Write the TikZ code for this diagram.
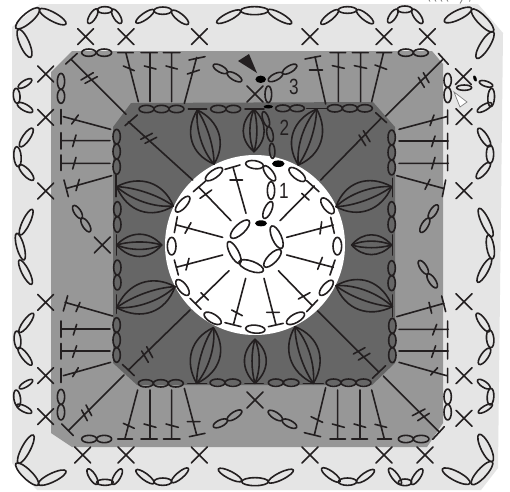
\documentclass[tikz,border=0pt]{standalone}
\usepackage{fontspec}
\setmainfont{Liberation Sans}
\usetikzlibrary{calc}
\definecolor{ink}{HTML}{231F20}
\definecolor{lightz}{HTML}{E5E5E5}
\definecolor{midz}{HTML}{979797}
\definecolor{darkz}{HTML}{666666}
\tikzset{
  stitch/.style={draw=ink,line width=1.6pt,line cap=round,line join=round},
  blob/.style={fill=black,draw=none},
  px/.style={x=1pt,y=-1pt},
  q/.style 2 args={shift={(#1pt,-#2pt)},x=.33333pt,y=-.33333pt},
  lab/.style={text=ink,inner sep=0pt,font=\fontsize{22}{22}\selectfont,xscale=.78}
}
% chain stitch: ellipse between two end points, half width #5
\newcommand{\ee}[5]{%
  \pgfmathsetmacro\eecx{((#1)+(#3))/2}%
  \pgfmathsetmacro\eecy{((#2)+(#4))/2}%
  \pgfmathsetmacro\eeang{atan2((#2)-(#4),(#3)-(#1))}%
  \pgfmathsetmacro\eerx{veclen((#3)-(#1),(#4)-(#2))/2}%
  \draw[stitch,rotate around={\eeang:(\eecx,\eecy)}] (\eecx,\eecy) ellipse [x radius=\eerx,y radius=#5];}
% single crochet
\newcommand{\xx}[2]{\draw[stitch] ({#1-24},{#2-24}) -- ({#1+24},{#2+24}) ({#1-24},{#2+24}) -- ({#1+24},{#2-24});}
% cluster of four curves between two end points
\newcommand{\petal}[4]{%
  \pgfmathsetmacro\pdx{(#3)-(#1)}\pgfmathsetmacro\pdy{(#4)-(#2)}%
  \foreach \k in {.34,.13,-.09,-.32}{%
    \draw[stitch] (#1,#2) .. controls ({#1+.3*\pdx-\k*\pdy},{#2+.3*\pdy+\k*\pdx}) and ({#1+.72*\pdx-\k*\pdy},{#2+.72*\pdy+\k*\pdx}) .. (#3,#4);}}
\begin{document}
\begin{tikzpicture}
\useasboundingbox (0,0) rectangle (510pt,-491pt);
\fill[white] (0,0) rectangle (510pt,-491pt);
\begin{scope}[px]
\fill[lightz] (12,27) -- (40,4) -- (478,4) -- (503,33) -- (498,468) -- (481,490) -- (37,490) -- (12,463) -- cycle;
\fill[midz] (51,72) -- (72,51) -- (432,51) -- (443,64) -- (443,423) -- (427,447) -- (72,447) -- (51,433) -- cycle;
\fill[darkz] (113,127) -- (131,103) -- (373,102) -- (395,127) -- (395,363) -- (372,385) -- (137,385) -- (113,363) -- cycle;
\fill[white] (255,245) circle [radius=90];
\fill[ink] (238,61) -- (249,54) -- (257,73) -- cycle;
\draw[fill=white,draw=gray,line width=.7pt] (454,92) -- (467,102) -- (460,107) -- cycle;
\fill[blob] (260.7,79.3) ellipse [x radius=5.3,y radius=3.7];
\fill[blob] (268.3,106.7) ellipse [x radius=4.7,y radius=1.8];
\fill[blob] (278.3,163.7) ellipse [x radius=6.3,y radius=3.3];
\fill[blob] (261,223.3) ellipse [x radius=6,y radius=3];
\fill[blob,rotate around={-70:(475,78.5)}] (475,78.5) ellipse [x radius=3.2,y radius=1.6];
\node[lab] (n1) at (284,190.5) {1};
\node[lab] (n2) at (284.5,127.5) {2};
\node[lab] (n3) at (294,86.5) {3};
\end{scope}
% ---------- top left
\begin{scope}[q={0}{0}]
\ee{118}{28}{198}{72}{13}\ee{48}{85}{118}{25}{15}\ee{55}{88}{92}{172}{14}
\ee{265}{70}{292}{27}{10}\ee{292}{30}{337}{30}{10}\ee{337}{28}{363}{70}{10}
\ee{408}{68}{462}{30}{10}\ee{462}{32}{515}{32}{11}\ee{515}{32}{565}{72}{11}
\ee{650}{68}{722}{32}{11}\ee{722}{32}{805}{32}{12}
\ee{95}{238}{55}{263}{9}\ee{48}{265}{52}{310}{10}\ee{52}{310}{98}{335}{10}
\ee{98}{385}{60}{440}{11}\ee{50}{440}{55}{500}{11}\ee{58}{495}{100}{540}{11}
\ee{97}{628}{60}{705}{11}\ee{50}{700}{72}{780}{11}\ee{58}{780}{95}{853}{11}
\xx{257}{110}\xx{378}{110}\xx{598}{110}\xx{137}{222}\xx{137}{352}\xx{137}{573}\xx{307}{735}
\ee{245}{158}{288}{158}{11}\ee{290}{158}{335}{158}{11}
\draw[stitch] (415,305)--(378,160) (353,158)--(400,158) (370,198)--(403,212);
\draw[stitch] (450,305)--(450,158) (423,158)--(472,158) (433,198)--(468,207);
\draw[stitch] (515,305)--(515,158) (490,158)--(540,158) (498,198)--(532,207);
\draw[stitch] (553,310)--(590,172) (567,180)--(615,170) (562,222)--(598,210);
\ee{640}{195}{682}{218}{10}\ee{682}{218}{725}{243}{10}
\draw[stitch] (378,343)--(215,180) (197,192)--(232,160) (243,240)--(280,218) (255,250)--(292,230);
\ee{183}{220}{183}{268}{11}\ee{183}{268}{183}{310}{11}
\draw[stitch] (332,388)--(190,350) (183,328)--(183,372) (215,372)--(235,345);
\draw[stitch] (330,422)--(185,422) (183,398)--(183,447) (218,440)--(228,405);
\draw[stitch] (330,490)--(185,490) (183,465)--(183,512) (218,507)--(228,472);
\draw[stitch] (335,527)--(200,565) (192,540)--(205,590) (228,572)--(238,538);
\ee{220}{617}{245}{655}{10}\ee{245}{655}{270}{695}{10}
\ee{417}{327}{462}{327}{11}\ee{462}{327}{507}{327}{11}\ee{507}{327}{552}{327}{11}
\draw[stitch] (565,327)--(620,327);
\petal{592}{330}{642}{492}
\ee{632}{327}{678}{327}{11}\ee{678}{327}{722}{327}{11}
\petal{350}{560}{520}{618}
\draw[stitch] (348,525)--(348,590);
\petal{350}{735}{485}{735}
\draw[stitch] (350,705)--(350,765);
\ee{350}{388}{350}{432}{11}\ee{350}{432}{350}{477}{11}\ee{350}{477}{350}{523}{11}
\ee{352}{605}{352}{650}{11}\ee{352}{650}{352}{697}{11}
\draw[stitch] (578,540)--(385,365) (375,377)--(412,345) (422,418)--(457,400) (435,430)--(470,412);
\end{scope}
% ---------- centre top, from the detail crop
\begin{scope}[q={200}{50}]
\xx{165}{132}
\ee{205}{108}{205}{158}{10}
\ee{205}{92}{248}{70}{10}\ee{248}{70}{290}{45}{10}
\draw[stitch] (135,177)--(192,177);
\petal{162}{178}{162}{305}
\ee{190}{185}{205}{230}{9}\ee{205}{230}{215}{275}{9}\ee{215}{280}{218}{325}{8}
\end{scope}
% ---------- top right
\begin{scope}[q={255}{0}]
\ee{38}{30}{110}{70}{11}
\ee{198}{72}{250}{30}{10}\ee{250}{30}{305}{30}{10}\ee{305}{30}{355}{70}{10}
\ee{400}{68}{427}{28}{10}\ee{427}{28}{472}{28}{10}\ee{472}{28}{502}{70}{10}
\ee{568}{65}{650}{25}{14}\ee{650}{28}{715}{95}{14}\ee{715}{95}{665}{175}{14}
\ee{673}{245}{713}{258}{8}\ee{710}{265}{707}{320}{10}\ee{667}{335}{710}{310}{9}
\ee{670}{385}{705}{440}{11}\ee{705}{435}{705}{490}{11}\ee{665}{535}{705}{488}{11}
\ee{672}{625}{712}{710}{12}
\xx{165}{110}\xx{387}{110}\xx{517}{110}\xx{625}{230}\xx{627}{350}\xx{627}{572}
\ee{605}{263}{650}{263}{8}
\draw[stitch] (212,312)--(180,170) (150,177)--(197,168) (163,210)--(203,210);
\draw[stitch] (250,305)--(250,158) (225,158)--(272,158) (232,197)--(268,205);
\draw[stitch] (317,305)--(317,158) (292,158)--(340,158) (298,197)--(335,205);
\draw[stitch] (350,305)--(385,160) (365,158)--(410,158) (360,195)--(395,208);
\ee{430}{158}{475}{158}{11}\ee{475}{158}{520}{158}{11}
\ee{578}{220}{578}{262}{11}\ee{578}{262}{578}{308}{11}
\draw[stitch] (432,388)--(575,350) (578,330)--(578,372) (525,377)--(537,345);
\draw[stitch] (432,423)--(580,423) (578,400)--(578,447) (530,440)--(540,408);
\draw[stitch] (432,490)--(580,490) (578,465)--(578,512) (530,507)--(540,472);
\draw[stitch] (425,527)--(565,565) (572,540)--(562,590) (510,568)--(525,538);
\ee{548}{615}{522}{655}{10}\ee{522}{655}{497}{697}{10}
\draw[stitch] (392,348)--(562,180) (550,160)--(580,193) (490,232)--(508,262) (505,218)--(522,248);
\draw[stitch] (197,540)--(378,355) (362,338)--(395,368) (312,405)--(332,437) (325,392)--(345,425);
\ee{217}{325}{262}{325}{11}\ee{262}{325}{307}{325}{11}\ee{307}{325}{352}{325}{11}
\ee{62}{325}{105}{325}{10}\ee{105}{325}{148}{325}{10}
\draw[stitch] (155,325)--(215,325);
\petal{185}{327}{130}{495}
\ee{410}{390}{410}{435}{11}\ee{410}{435}{410}{480}{11}\ee{410}{480}{410}{525}{11}
\draw[stitch] (412,535)--(412,590);
\petal{410}{560}{243}{620}
\ee{410}{605}{410}{650}{11}\ee{410}{650}{410}{697}{11}
\petal{410}{735}{290}{735}
\draw[stitch] (412,705)--(412,765);
\end{scope}
% ---------- bottom left
\begin{scope}[q={0}{245}]
\ee{655}{672}{725}{708}{11}\ee{725}{710}{805}{710}{12}
\ee{408}{675}{462}{715}{10}\ee{462}{710}{515}{710}{11}\ee{515}{712}{565}{670}{10}
\ee{263}{672}{292}{718}{10}\ee{290}{712}{340}{712}{9}\ee{338}{718}{365}{672}{10}
\ee{115}{718}{198}{678}{13}\ee{48}{655}{115}{720}{14}\ee{55}{655}{100}{570}{13}
\ee{98}{405}{58}{430}{8}\ee{48}{435}{55}{485}{10}\ee{50}{480}{95}{503}{9}
\ee{100}{205}{58}{262}{10}\ee{50}{258}{55}{312}{10}\ee{55}{308}{95}{360}{10}
\xx{137}{172}\xx{137}{392}\xx{137}{515}\xx{248}{630}\xx{378}{630}\xx{598}{630}\xx{765}{465}
\draw[stitch] (338,213)--(195,172) (203,152)--(190,198) (228,200)--(240,172);
\draw[stitch] (330,252)--(185,252) (183,228)--(183,277) (220,270)--(230,238);
\draw[stitch] (330,318)--(185,318) (183,295)--(183,342) (218,337)--(230,302);
\draw[stitch] (332,352)--(190,392) (183,370)--(183,413) (218,395)--(235,368);
\ee{183}{433}{183}{478}{11}\ee{183}{478}{183}{525}{11}
\draw[stitch] (372,390)--(205,557) (185,537)--(220,572) (245,495)--(262,527) (258,480)--(275,512);
\draw[stitch] (570,195)--(385,375) (367,358)--(403,392) (425,318)--(445,352) (440,305)--(458,338);
\ee{245}{582}{290}{582}{11}\ee{290}{582}{335}{582}{11}
\draw[stitch] (413,435)--(375,580) (353,582)--(398,582) (370,535)--(403,550);
\draw[stitch] (450,435)--(450,582) (423,582)--(472,582) (432,537)--(468,547);
\draw[stitch] (515,435)--(515,582) (490,582)--(540,582) (498,537)--(535,547);
\draw[stitch] (553,430)--(590,570) (568,575)--(615,565) (562,530)--(600,530);
\ee{640}{545}{682}{525}{10}\ee{682}{525}{725}{497}{10}
\ee{415}{415}{460}{415}{11}\ee{460}{415}{505}{415}{11}\ee{505}{415}{550}{415}{11}
\ee{630}{413}{675}{413}{11}\ee{675}{413}{722}{413}{11}
\draw[stitch] (563,415)--(620,415) (735,415)--(790,415);
\petal{590}{415}{640}{248}
\petal{765}{415}{765}{283}
\ee{352}{45}{352}{90}{11}\ee{352}{90}{352}{135}{11}
\draw[stitch] (350,150)--(350,205);
\petal{350}{188}{525}{125}
\ee{350}{218}{350}{262}{11}\ee{350}{262}{350}{308}{11}\ee{350}{308}{350}{352}{11}
\end{scope}
% ---------- bottom right
\begin{scope}[q={255}{245}]
\ee{40}{712}{115}{675}{11}
\ee{200}{670}{255}{710}{11}\ee{250}{710}{305}{710}{11}\ee{305}{712}{358}{675}{10}
\ee{402}{670}{438}{718}{10}\ee{430}{712}{470}{712}{10}\ee{470}{718}{502}{672}{10}
\ee{672}{568}{712}{650}{14}\ee{712}{650}{650}{718}{14}\ee{645}{715}{562}{672}{14}
\ee{668}{405}{705}{430}{9}\ee{708}{430}{705}{480}{10}\ee{670}{503}{712}{478}{8}
\ee{665}{205}{703}{260}{11}\ee{703}{255}{708}{308}{11}\ee{672}{358}{705}{310}{11}
\ee{700}{-30}{712}{42}{11}\ee{668}{112}{708}{40}{11}
\xx{627}{170}\xx{627}{392}\xx{627}{520}\xx{165}{630}\xx{387}{630}\xx{510}{630}
\ee{410}{47}{410}{92}{11}\ee{410}{92}{410}{137}{11}
\draw[stitch] (412,150)--(412,215);
\petal{412}{185}{243}{122}
\ee{412}{220}{412}{265}{11}\ee{412}{265}{412}{308}{11}\ee{412}{308}{412}{353}{11}
\ee{492}{47}{518}{87}{10}\ee{518}{87}{545}{128}{10}
\draw[stitch] (425,215)--(567,175) (560,153)--(572,200) (522,172)--(530,205);
\draw[stitch] (432,253)--(580,253) (578,228)--(578,277) (533,270)--(545,238);
\draw[stitch] (432,318)--(580,318) (578,295)--(578,342) (530,337)--(542,302);
\draw[stitch] (432,352)--(575,392) (578,370)--(578,413) (527,390)--(548,368);
\ee{578}{432}{578}{478}{11}\ee{578}{478}{578}{525}{11}
\draw[stitch] (385,393)--(552,560) (533,583)--(568,545) (472,512)--(510,492) (488,527)--(523,505);
\draw[stitch] (188,198)--(372,382) (352,400)--(392,362) (295,327)--(330,308) (310,345)--(345,325);
\ee{430}{582}{475}{582}{11}\ee{475}{582}{522}{582}{11}
\draw[stitch] (212,428)--(178,570) (148,563)--(197,575) (168,515)--(203,532);
\draw[stitch] (248,435)--(248,582) (225,582)--(272,582) (232,537)--(268,547);
\draw[stitch] (315,435)--(315,582) (290,582)--(338,582) (297,537)--(332,547);
\draw[stitch] (350,435)--(388,582) (367,582)--(410,582) (360,538)--(395,547);
\ee{40}{498}{82}{525}{10}\ee{82}{525}{125}{547}{10}
\ee{213}{413}{258}{413}{11}\ee{258}{413}{303}{413}{11}\ee{303}{413}{348}{413}{11}
\ee{40}{413}{85}{413}{11}\ee{85}{413}{132}{413}{11}
\draw[stitch] (145,415)--(205,415);
\petal{175}{415}{120}{245}
\end{scope}
% ---------- round 1
\begin{scope}[q={165}{150}]
\ee{198}{263}{252}{212}{15}\ee{190}{275}{225}{340}{13}\ee{222}{335}{295}{362}{15}\ee{298}{350}{347}{300}{14}\ee{320}{228}{350}{295}{14}
\ee{242}{40}{295}{48}{12}\ee{122}{90}{172}{55}{12}\ee{33}{185}{73}{140}{12}\ee{20}{262}{20}{315}{13}
\ee{35}{390}{70}{435}{13}\ee{118}{490}{168}{520}{13}\ee{242}{535}{300}{540}{12}\ee{365}{520}{418}{490}{13}
\ee{465}{435}{503}{392}{12}\ee{517}{262}{517}{315}{13}\ee{470}{145}{505}{190}{13}\ee{373}{55}{420}{92}{13}
\ee{297}{205}{320}{155}{11}\ee{318}{148}{318}{95}{11}\ee{297}{48}{330}{92}{11}
\draw[stitch] (243,190)--(205,55) (180,58)--(225,45) (195,90)--(233,90);
\draw[stitch] (198,212)--(100,110) (85,125)--(122,93) (105,145)--(140,120);
\draw[stitch] (173,262)--(35,225) (28,248)--(37,200) (60,250)--(78,218);
\draw[stitch] (173,315)--(33,352) (28,330)--(40,375) (63,360)--(72,325);
\draw[stitch] (192,362)--(92,460) (75,445)--(108,478) (108,428)--(130,450);
\draw[stitch] (242,385)--(205,525) (180,518)--(228,530) (200,480)--(232,497);
\draw[stitch] (297,385)--(333,525) (310,530)--(355,520) (305,487)--(343,487);
\draw[stitch] (340,362)--(440,465) (425,485)--(458,450) (400,447)--(435,428);
\draw[stitch] (365,315)--(505,352) (495,375)--(510,330) (458,358)--(472,322);
\draw[stitch] (365,262)--(505,225) (497,202)--(508,250) (465,252)--(470,215);
\draw[stitch] (345,212)--(448,108) (425,92)--(462,125) (410,130)--(432,150);
\end{scope}
% clipped tail of a caption along the top edge
\begin{scope}[px]
\draw[gray,line width=.8pt] (429,0)--(430,1.5) (435,0)--(436,1.5) (441,0)--(442,1.5) (447,0)--(448,1.5) (462,0)--(460,3.5) (470,0)--(469.5,1.5);
\end{scope}
\end{tikzpicture}
\end{document}
